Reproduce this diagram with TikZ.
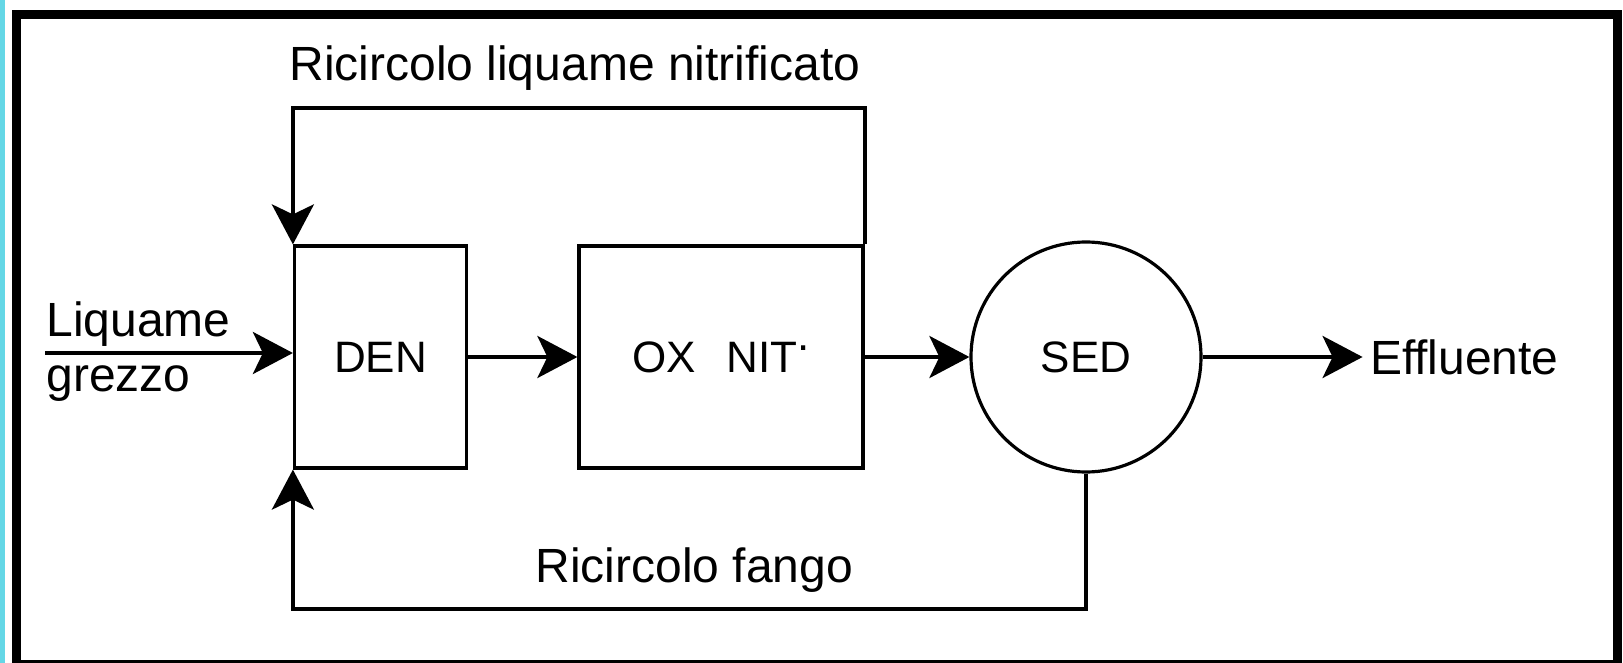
\documentclass[tikz,border=0pt]{standalone}
\usepackage{fontspec}
\setmainfont{Liberation Sans}
\usetikzlibrary{arrows.meta, positioning}
\definecolor{stripcyan}{RGB}{100,215,230}

\begin{document}
\begin{tikzpicture}[
        x=0.5pt, y=-0.5pt,
        reactor/.style={draw, rectangle, line width=1.6pt, minimum height=111pt, align=center, font=\fontsize{22}{26}\selectfont},
        settler/.style={draw, circle, line width=1.6pt, minimum size=115pt, font=\fontsize{22}{26}\selectfont},
        flowtext/.style={inner sep=0pt, align=left, font=\fontsize{24}{27.5}\selectfont},
        flow/.style={line width=2pt, -{Stealth[length=20pt, width=21pt, inset=5pt]}}
    ]
    
    % Page and frame
    \useasboundingbox (0,0) rectangle (1623,663);
    \fill[white] (0,0) rectangle (1623,663);
    \fill[stripcyan] (0,0) rectangle (5,663);
    \draw[line width=4.5pt] (16,14.5) rectangle (1617.5,664.5);
    
    % Process units
    \node[reactor, minimum width=86pt] (den) at (380.5,357) {DEN};
    \node[reactor, minimum width=142pt] (oxnit) at (721,357) {OX\hspace{0.7em}NIT\raisebox{0.5em}{.}};
    \node[settler] (sed) at (1086,357) {SED};
    
    % Inflow and outflow
    \coordinate (inlet) at (45,353);
    \node[flowtext, anchor=north west] (raw) at (46,301) {Liquame\\grezzo};
    \node[flowtext, right=83.5pt of sed] (eff) {Effluente};
    
    \draw[flow] (inlet) -- (inlet -| den.west);
    \draw[flow] (den) -- (oxnit);
    \draw[flow] (oxnit) -- (sed);
    \draw[flow, shorten >=3.5pt] (sed) -- (eff);
    
    % Recirculations
    \draw[flow] (oxnit.north east) -- ++(0,-136) -| (den.north west);
    \node[flowtext, anchor=base west] (nitrec) at (289,81) {Ricircolo liquame nitrificato};
    
    \draw[flow] (sed.south) -- ++(0,135) -| (den.south west);
    \node[flowtext, anchor=base west] (sludgerec) at (535,582) {Ricircolo fango};
    
    \end{tikzpicture}
\end{document}
